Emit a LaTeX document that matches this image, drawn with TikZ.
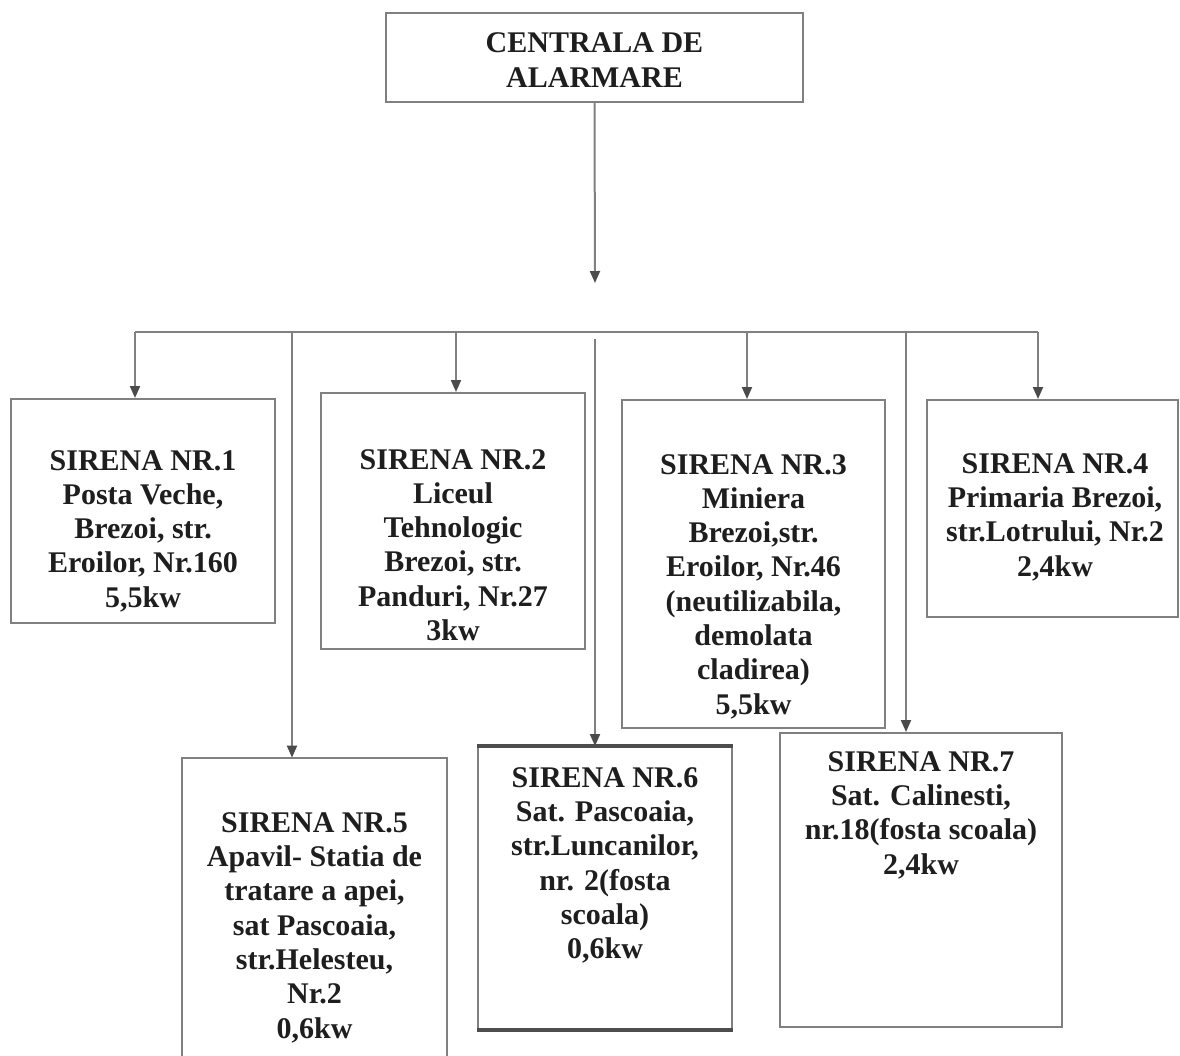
\documentclass[tikz,border=0pt]{standalone}
\usepackage{fontspec}
\setmainfont{Liberation Serif}
\usetikzlibrary{arrows.meta}
\definecolor{linec}{RGB}{128,128,128}
\definecolor{tipc}{RGB}{75,75,75}
\definecolor{txtc}{RGB}{30,30,30}
\begin{document}
\begin{tikzpicture}[x=0.5pt,y=-0.5pt,
  box/.style={draw=linec, line width=1pt, rectangle, inner sep=0pt},
  openbox/.style={rectangle, inner sep=0pt},
  txt/.style={align=center, font=\fontsize{15}{17.15}\selectfont\bfseries, text=txtc, inner sep=0pt},
  conn/.style={draw=linec, line width=1pt},
  arr/.style={conn, -{Triangle[width=5pt,length=6pt,color=tipc]}}
]
\useasboundingbox (0,0) rectangle (1180,1056);

% central box
\node[box, minimum width=208.5pt, minimum height=44.5pt] (cen) at (594.5,57.5) {};
\node[txt] (cent) at (594.5,60) {CENTRALA DE\\ALARMARE};

% siren boxes
\node[box, minimum width=132pt, minimum height=112pt] (b1) at (143,511) {};
\node[txt] (t1) at (143,531) {SIRENA NR.1\\Posta Veche,\\Brezoi, str.\\Eroilor, Nr.160\\5,5kw};

\node[box, minimum width=132pt, minimum height=128pt] (b2) at (453,521) {};
\node[txt] (t2) at (453,545) {SIRENA NR.2\\Liceul\\Tehnologic\\Brezoi, str.\\Panduri, Nr.27\\3kw};

\node[box, minimum width=131.5pt, minimum height=164pt] (b3) at (753.5,564) {};
\node[txt] (t3) at (753.5,586.5) {SIRENA NR.3\\Miniera\\Brezoi,str.\\Eroilor, Nr.46\\(neutilizabila,\\demolata\\cladirea)\\5,5kw};

\node[box, minimum width=125.5pt, minimum height=108.5pt] (b4) at (1052.5,508.5) {};
\node[txt] (t4) at (1055,517) {SIRENA NR.4\\Primaria Brezoi,\\str.Lotrului, Nr.2\\2,4kw};

\node[openbox, minimum width=132.5pt, minimum height=149pt] (b5) at (314.5,907) {};
\draw[conn] (b5.south west) -- (b5.north west) -- (b5.north east) -- (b5.south east);
\node[txt] (t5) at (314.5,927.5) {SIRENA NR.5\\Apavil- Statia de\\tratare a apei,\\sat Pascoaia,\\str.Helesteu,\\Nr.2\\0,6kw};

\node[box, minimum width=127pt, minimum height=141pt] (b6) at (605,888) {};
\draw[draw=linec!60!black, line width=1.6pt] (b6.north west) -- (b6.north east);
\draw[draw=linec!60!black, line width=1.6pt] (b6.south west) -- (b6.south east);
\node[txt] (t6) at (605,865.5) {SIRENA NR.6\\Sat. Pascoaia,\\str.Luncanilor,\\nr. 2(fosta\\scoala)\\0,6kw};

\node[box, minimum width=141pt, minimum height=147pt] (b7) at (921,880) {};
\node[txt] (t7) at (921,815) {SIRENA NR.7\\Sat. Calinesti,\\nr.18(fosta scoala)\\2,4kw};

% connectors
\coordinate (cdrop) at (595,283);
\draw[arr] (cen.south) -- (cdrop);

\coordinate (busL) at (135,332);
\coordinate (busR) at (1038,332);
\draw[conn] (busL) -- (busR);
\draw[arr] (busL) -- (busL |- b1.north);
\coordinate (d2) at (456,332);
\draw[arr] (d2) -- (d2 |- b2.north);
\coordinate (d5) at (292,332);
\draw[arr] (d5) -- (d5 |- b5.north);
\coordinate (d6) at (595,339);
\draw[arr] (d6) -- (d6 |- b6.north);
\coordinate (d3) at (747,332);
\draw[arr] (d3) -- (d3 |- b3.north);
\coordinate (d7) at (906,332);
\draw[arr] (d7) -- (d7 |- b7.north);
\draw[arr] (busR) -- (busR |- b4.north);
\end{tikzpicture}
\end{document}
